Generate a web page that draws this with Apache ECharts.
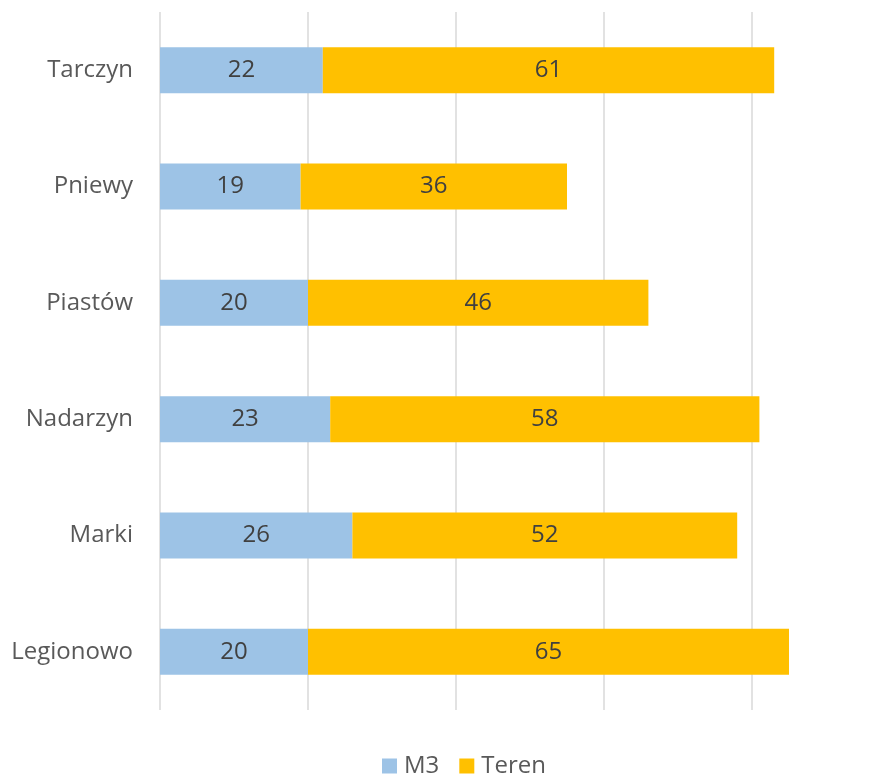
<!DOCTYPE html>
<html>
<head>
<meta charset="utf-8">
<script src="https://cdn.jsdelivr.net/npm/echarts@6/dist/echarts.min.js"></script>
<style>
  html, body { margin: 0; padding: 0; background: #fff; }
  #chart { width: 892px; height: 774px; }
</style>
</head>
<body>
<div id="chart"></div>
<script>
// Categories listed bottom-to-top (category y axis starts at the bottom)
const categories = ['Legionowo', 'Marki', 'Nadarzyn', 'Piastów', 'Pniewy', 'Tarczyn'];
const m3Values = [20, 26, 23, 20, 19, 22];
const terenValues = [65, 52, 58, 46, 36, 61];
const seriesNames = ['M3', 'Teren'];

const FONT = '"Open Sans", sans-serif';

const chart = echarts.init(document.getElementById('chart'));

const labelStyle = {
  show: true,
  position: 'inside',
  color: '#404040',
  fontFamily: FONT,
  fontSize: 24
};

chart.setOption({
  animation: false,
  backgroundColor: '#ffffff',
  // the value axis runs to 100, whose gridline sits just past the right edge
  grid: { left: 160, width: 740, top: 12, bottom: 64, containLabel: false, outerBoundsMode: 'none' },
  legend: {
    data: seriesNames,
    left: 377,
    top: 749,
    itemWidth: 15,
    itemHeight: 15,
    itemGap: 20,
    icon: 'rect',
    textStyle: { color: '#595959', fontFamily: FONT, fontSize: 24, padding: [0, 0, 0, 2] }
  },
  xAxis: {
    type: 'value',
    min: 0,
    max: 100,
    interval: 20,
    axisLabel: { show: false },
    axisLine: { show: false },
    axisTick: { show: false },
    splitLine: { show: true, lineStyle: { color: '#D9D9D9', width: 1.5 } }
  },
  yAxis: {
    type: 'category',
    data: categories,
    axisLine: { show: false },
    axisTick: { show: false },
    axisLabel: { color: '#595959', fontFamily: FONT, fontSize: 24, margin: 27 }
  },
  series: [
    {
      name: seriesNames[0],
      type: 'bar',
      stack: 'total',
      barWidth: '39.5%',
      data: m3Values,
      itemStyle: { color: '#9DC3E6' },
      label: labelStyle
    },
    {
      name: seriesNames[1],
      type: 'bar',
      stack: 'total',
      barWidth: '39.5%',
      data: terenValues,
      itemStyle: { color: '#FFC000' },
      label: labelStyle
    }
  ]
});
</script>
</body>
</html>
